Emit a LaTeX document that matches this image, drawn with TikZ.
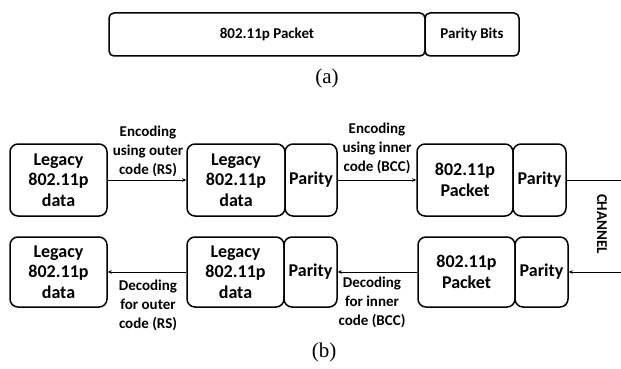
\documentclass[tikz,border=0pt]{standalone}
\usepackage{fontspec}
\setmainfont{Carlito}
\newfontfamily\capfont{Liberation Serif}
\usetikzlibrary{arrows.meta}
\tikzset{
  blk/.style={draw, line width=1.5pt, rounded corners=8pt, inner sep=0pt,
    minimum height=72pt, align=center,
    font=\fontsize{18}{20.5}\selectfont\bfseries},
  abox/.style={draw, line width=1.5pt, rounded corners=5pt, inner sep=0pt,
    minimum height=43pt, font=\fontsize{15}{18}\selectfont\bfseries},
  lbl/.style={align=center, inner sep=0pt, font=\fontsize{15}{19}\selectfont\bfseries},
  arr/.style={line width=0.8pt, -{Stealth[length=4pt,width=3.5pt]}},
  capt/.style={font=\capfont\fontsize{21}{23}\selectfont, inner sep=0pt}
}
\begin{document}
\begin{tikzpicture}[x=1pt,y=-1pt]
\useasboundingbox (0,0) rectangle (621,369);
% (a)
\node[abox, minimum width=316pt] (ap) at (267,34.5) {802.11p Packet};
\node[abox, minimum width=94pt] (ab) at (472,34.5) {Parity Bits};
\node[capt] (ca) at (327,78) {(a)};
% (b) top row
\node[blk, minimum width=97pt] (t1) at (58.5,180) {Legacy\\802.11p\\data};
\node[blk, minimum width=98pt] (t2) at (236,180) {Legacy\\802.11p\\data};
\node[blk, minimum width=52pt] (t2p) at (311,180) {Parity};
\node[blk, minimum width=96pt] (t3) at (465,180) {802.11p\\Packet};
\node[blk, minimum width=53pt] (t3p) at (539.5,180) {Parity};
\coordinate (ce1) at (621,180);
\draw[arr] (t1.east) -- (t2.west);
\draw[arr] (t2p.east) -- (t3.west);
\draw[line width=0.8pt] (t3p.east) -- (ce1);
\node[lbl] (e1) at (148,151) {Encoding\\using outer\\code (RS)};
\node[lbl] (e2) at (377,148) {Encoding\\using inner\\code (BCC)};
\node[font=\fontsize{15}{17}\selectfont\bfseries, rotate=-90, inner sep=0pt] (ch) at (602,224) {CHANNEL};
% bottom row
\node[blk, minimum width=97pt, minimum height=70pt] (b1) at (58.5,272) {Legacy\\802.11p\\data};
\node[blk, minimum width=97pt, minimum height=70pt] (b2) at (235.5,272) {Legacy\\802.11p\\data};
\node[blk, minimum width=53pt, minimum height=70pt] (b2p) at (310.5,272) {Parity};
\node[blk, minimum width=97pt, minimum height=70pt] (b3) at (466.5,272) {802.11p\\Packet};
\node[blk, minimum width=53pt, minimum height=70pt] (b3p) at (541.5,272) {Parity};
\coordinate (ce2) at (621,272);
\draw[arr] (ce2) -- (b3p.east);
\draw[arr] (b3.west) -- (b2p.east);
\draw[arr] (b2.west) -- (b1.east);
\node[lbl] (d1) at (148,305) {Decoding\\for outer\\code (RS)};
\node[lbl] (d2) at (372,302) {Decoding\\for inner\\code (BCC)};
\node[capt] (cb) at (324,352) {(b)};
\end{tikzpicture}
\end{document}
